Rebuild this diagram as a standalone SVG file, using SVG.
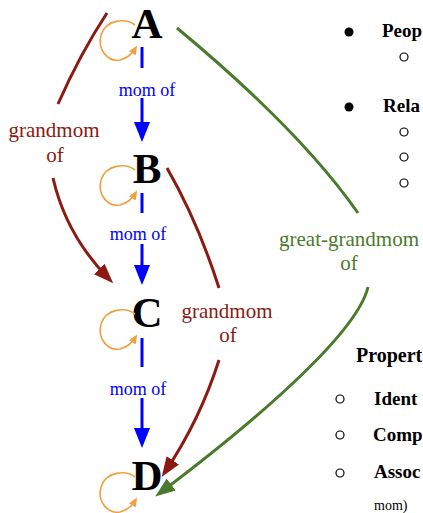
<svg xmlns="http://www.w3.org/2000/svg" width="423" height="513" viewBox="0 0 423 513">
  <style>
    .node { font-family: "Liberation Serif", "Times New Roman", serif; font-weight: bold; font-size: 43px; fill: #000; text-anchor: middle; }
    .mom { font-family: "Liberation Serif", "Times New Roman", serif; font-size: 18px; fill: #0000ff; text-anchor: middle; }
    .gm { font-family: "Liberation Serif", "Times New Roman", serif; font-size: 21px; fill: #8b1a12; text-anchor: middle; }
    .ggm { font-family: "Liberation Serif", "Times New Roman", serif; font-size: 21px; fill: #4a7a2c; text-anchor: middle; }
    .side { font-family: "Liberation Serif", "Times New Roman", serif; font-weight: bold; font-size: 19px; fill: #000; }
    .head { font-family: "Liberation Serif", "Times New Roman", serif; font-weight: bold; font-size: 20px; fill: #000; }
    .note { font-family: "Liberation Serif", "Times New Roman", serif; font-size: 14px; fill: #000; }
    .blue { stroke: #0000ff; stroke-width: 3; fill: none; }
    .red { stroke: #8b1a12; stroke-width: 3; fill: none; }
    .green { stroke: #4a7a2c; stroke-width: 3; fill: none; }
    .loop { stroke: #f0a040; stroke-width: 1.6; fill: none; }
    .hollow { fill: none; stroke: #000; stroke-width: 1.2; }
  </style>
  <defs>
    <marker id="ah-blue" viewBox="0 0 20 16" refX="14" refY="8" markerWidth="20" markerHeight="16" markerUnits="userSpaceOnUse" orient="auto">
      <path d="M0,0 L20,8 L0,16 z" fill="#0000ff"/>
    </marker>
    <marker id="ah-red" viewBox="0 0 20 15" refX="14" refY="7.5" markerWidth="20" markerHeight="15" markerUnits="userSpaceOnUse" orient="auto">
      <path d="M0,0 L20,7.5 L0,15 z" fill="#8b1a12"/>
    </marker>
    <marker id="ah-green" viewBox="0 0 20 15" refX="14" refY="7.5" markerWidth="20" markerHeight="15" markerUnits="userSpaceOnUse" orient="auto">
      <path d="M0,0 L20,7.5 L0,15 z" fill="#4a7a2c"/>
    </marker>
    <marker id="ah-orange" viewBox="0 0 9 8" refX="5" refY="4" markerWidth="9" markerHeight="8" markerUnits="userSpaceOnUse" orient="auto">
      <path d="M0,0 L9,4 L0,8 z" fill="#f0a040"/>
    </marker>
    <path id="self-loop" d="M135,-13 C126,-20 106,-19 101,-3 C97,12 108,24 120,22 C127,20 132,16 135,11"/>
  </defs>

  <!-- nodes -->
  <g id="node-A">
    <text class="node" x="147" y="38">A</text>
  </g>
  <g id="node-B">
    <text class="node" x="147" y="183">B</text>
  </g>
  <g id="node-C">
    <text class="node" x="147" y="327">C</text>
  </g>
  <g id="node-D">
    <text class="node" x="147" y="490">D</text>
  </g>

  <!-- connectors -->
  <g id="connectors">
    <!-- reflexive loops -->
    <use href="#self-loop" class="loop" marker-end="url(#ah-orange)" transform="translate(0,38)"/>
    <use href="#self-loop" class="loop" marker-end="url(#ah-orange)" transform="translate(0,183)"/>
    <use href="#self-loop" class="loop" marker-end="url(#ah-orange)" transform="translate(0,327)"/>
    <use href="#self-loop" class="loop" marker-end="url(#ah-orange)" transform="translate(0,490)"/>

    <!-- mom of -->
    <line class="blue" x1="142" y1="47" x2="142" y2="68"/>
    <line class="blue" x1="142" y1="98" x2="142" y2="136" marker-end="url(#ah-blue)"/>
    <text class="mom" x="147" y="96">mom of</text>

    <line class="blue" x1="142" y1="193" x2="142" y2="213"/>
    <line class="blue" x1="142" y1="244" x2="142" y2="279" marker-end="url(#ah-blue)"/>
    <text class="mom" x="138" y="240">mom of</text>

    <line class="blue" x1="142" y1="338" x2="142" y2="367"/>
    <line class="blue" x1="142" y1="398" x2="142" y2="442" marker-end="url(#ah-blue)"/>
    <text class="mom" x="138" y="395">mom of</text>

    <!-- grandmom of: A to C -->
    <path class="red" d="M107,13 Q80,54 58,104"/>
    <path class="red" d="M53,178 Q66,235 109,279" marker-end="url(#ah-red)"/>
    <text class="gm" x="54" y="137">grandmom</text>
    <text class="gm" x="55" y="162">of</text>

    <!-- grandmom of: B to D -->
    <path class="red" d="M167,168 Q198,222 219,288"/>
    <path class="red" d="M219,360 Q200,420 165,472" marker-end="url(#ah-red)"/>
    <text class="gm" x="227" y="318">grandmom</text>
    <text class="gm" x="228" y="342">of</text>

    <!-- great-grandmom of: A to D -->
    <path class="green" d="M177,28 Q300,130 358,213"/>
    <path class="green" d="M368,287 C358,330 270,410 160,493" marker-end="url(#ah-green)"/>
    <text class="ggm" x="349" y="246">great-grandmom</text>
    <text class="ggm" x="349" y="270">of</text>
  </g>

  <!-- side notes -->
  <circle cx="349" cy="32" r="4.5" fill="#000"/>
  <text class="side" x="382" y="37">Peop</text>
  <circle class="hollow" cx="404" cy="57" r="4"/>

  <circle cx="349" cy="107" r="4.5" fill="#000"/>
  <text class="side" x="383" y="112">Rela</text>
  <circle class="hollow" cx="404" cy="132" r="4"/>
  <circle class="hollow" cx="404" cy="157" r="4"/>
  <circle class="hollow" cx="404" cy="183" r="4"/>

  <text class="head" x="356" y="362">Propert</text>
  <circle class="hollow" cx="340" cy="399" r="4"/>
  <text class="side" x="374" y="405">Ident</text>
  <circle class="hollow" cx="340" cy="435" r="4"/>
  <text class="side" x="373" y="441">Comp</text>
  <circle class="hollow" cx="340" cy="473" r="4"/>
  <text class="side" x="374" y="478">Assoc</text>
  <text class="note" x="374" y="510">mom)</text>
</svg>
